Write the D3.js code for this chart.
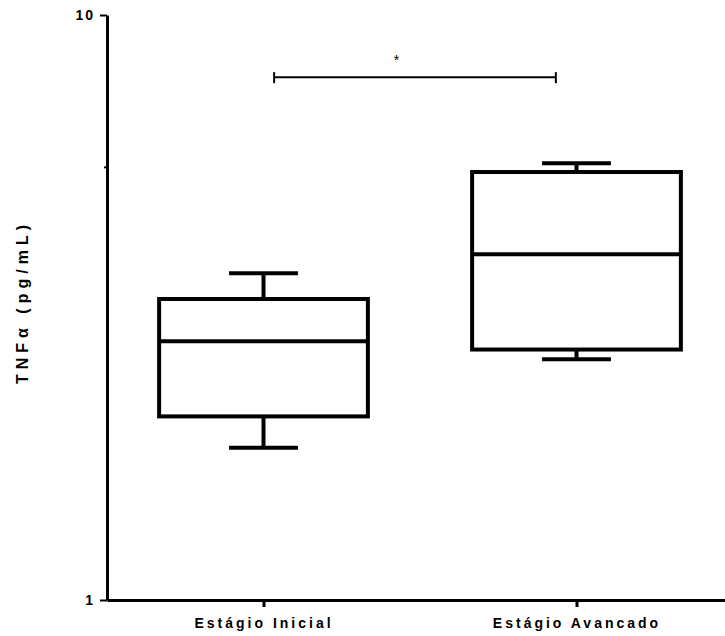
<!DOCTYPE html>
<html>
<head>
<meta charset="utf-8">
<script src="https://cdn.jsdelivr.net/npm/d3@7"></script>
<style>
  html, body { margin: 0; padding: 0; background: #fff; }
  svg { display: block; }
  text { font-family: "Liberation Sans", Arial, sans-serif; font-weight: bold; fill: #000; }
</style>
</head>
<body>
<svg id="chart" width="725" height="636"></svg>
<script>
// Group names along the x axis
const categories = ["Estágio Inicial", "Estágio Avancado"];
// Box-plot summaries per group (TNFα, pg/mL)
const whiskerLow  = [1.82, 2.58];
const quartile1   = [2.06, 2.68];
const medians     = [2.77, 3.90];
const quartile3   = [3.27, 5.39];
const whiskerHigh = [3.62, 5.58];
// Y axis ticks (log scale)
const yTicks = [1, 10];
const yMinorTicks = [5.5];
// Significance bracket between the groups (in group-index units) and its label
const sigFrom = 0.034, sigTo = 0.934, sigLevel = 7.83, sigLabelAt = 0.425;
const sigLabel = "*";

const svg = d3.select("#chart");

const y = d3.scaleLog().domain([1, 10]).range([600, 15]);
const x = d3.scalePoint().domain(categories).range([107, 733]).padding(0.5);
const step = x.step();
const xi = d3.scaleLinear().domain([0, 1]).range([x(categories[0]), x(categories[1])]);

const boxW = step * 0.667;
const capW = step * 0.22;

// Boxes
const g = svg.append("g");
categories.forEach((c, i) => {
  const cx = x(c);
  const grp = g.append("g").attr("stroke", "#000").attr("stroke-width", 4).attr("fill", "none");
  // whiskers
  grp.append("line").attr("x1", cx).attr("x2", cx).attr("y1", y(whiskerHigh[i])).attr("y2", y(quartile3[i]));
  grp.append("line").attr("x1", cx).attr("x2", cx).attr("y1", y(quartile1[i])).attr("y2", y(whiskerLow[i]));
  grp.append("line").attr("x1", cx - capW / 2).attr("x2", cx + capW / 2).attr("y1", y(whiskerHigh[i])).attr("y2", y(whiskerHigh[i]));
  grp.append("line").attr("x1", cx - capW / 2).attr("x2", cx + capW / 2).attr("y1", y(whiskerLow[i])).attr("y2", y(whiskerLow[i]));
  // box
  grp.append("rect")
    .attr("x", cx - boxW / 2).attr("width", boxW)
    .attr("y", y(quartile3[i])).attr("height", y(quartile1[i]) - y(quartile3[i]))
    .attr("fill", "#fff");
  // median
  grp.append("line").attr("x1", cx - boxW / 2).attr("x2", cx + boxW / 2).attr("y1", y(medians[i])).attr("y2", y(medians[i]));
});

// Significance bracket
const sg = svg.append("g").attr("stroke", "#000").attr("stroke-width", 2);
const sy = y(sigLevel);
sg.append("line").attr("x1", xi(sigFrom)).attr("x2", xi(sigTo)).attr("y1", sy).attr("y2", sy);
sg.append("line").attr("x1", xi(sigFrom)).attr("x2", xi(sigFrom)).attr("y1", sy - 5).attr("y2", sy + 6);
sg.append("line").attr("x1", xi(sigTo)).attr("x2", xi(sigTo)).attr("y1", sy - 5).attr("y2", sy + 6);
svg.append("text").attr("x", xi(sigLabelAt)).attr("y", sy - 12)
  .attr("text-anchor", "middle").style("font-size", "14px").style("font-weight", "normal").text(sigLabel);

// Y axis
const yAxis = svg.append("g").attr("transform", "translate(107,0)")
  .call(d3.axisLeft(y).tickValues(yTicks).tickFormat(d3.format("d")).tickSize(7).tickSizeOuter(0).tickPadding(5));
yAxis.select(".domain").attr("stroke-width", 3);
yAxis.selectAll(".tick line").attr("stroke-width", 2);
yAxis.selectAll(".tick text").style("font-size", "14px").style("letter-spacing", "2px");
svg.append("g").attr("transform", "translate(107,0)")
  .call(d3.axisLeft(y).tickValues(yMinorTicks).tickFormat("").tickSize(3).tickSizeOuter(0))
  .call(a => a.select(".domain").remove())
  .selectAll(".tick line").attr("stroke-width", 2);

// X axis
const xAxis = svg.append("g").attr("transform", "translate(0,600)")
  .call(d3.axisBottom(x).tickSize(7).tickSizeOuter(0).tickPadding(11));
xAxis.select(".domain").attr("stroke-width", 3);
xAxis.selectAll(".tick line").attr("stroke-width", 3);
xAxis.selectAll(".tick text").style("font-size", "14px").style("letter-spacing", "3px");

// Y axis title
svg.append("text")
  .attr("transform", "translate(28,302) rotate(-90)")
  .attr("text-anchor", "middle")
  .style("font-size", "16px")
  .style("letter-spacing", "5px")
  .text("TNFα (pg/mL)");
</script>
</body>
</html>
